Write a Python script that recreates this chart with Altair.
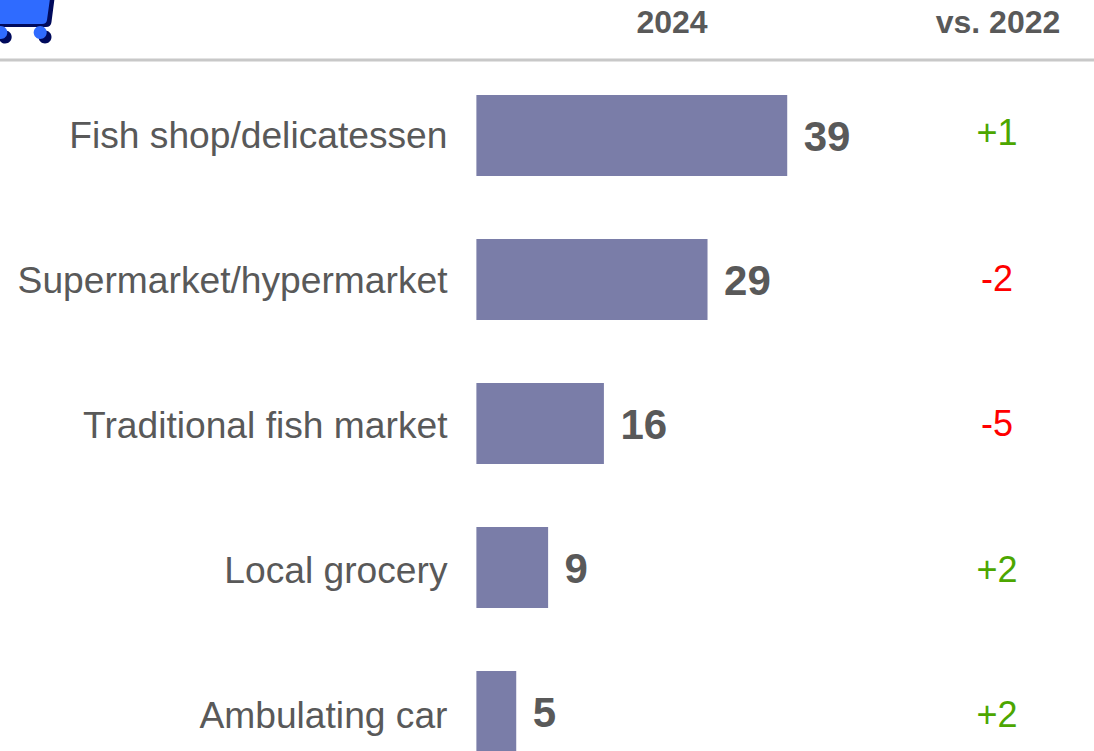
import altair as alt
import pandas as pd

# Channel shares for 2024 and the change against 2022
channels = ["Fish shop/delicatessen", "Supermarket/hypermarket", "Traditional fish market", "Local grocery", "Ambulating car"]
share_2024 = [39, 29, 16, 9, 5]
change_vs_2022 = ["+1", "-2", "-5", "+2", "+2"]
headers = ["2024", "vs. 2022"]

FONT = "Liberation Sans"
GREY = "#595959"
BAR = "#7a7da8"
GREEN = "#4ca600"
RED = "#ff0000"

df = pd.DataFrame({
    "channel": channels,
    "share": share_2024,
    "change": change_vs_2022,
    "tone": [GREEN if c.startswith("+") else RED for c in change_vs_2022],
})

x_scale = alt.Scale(domain=[-59.77, 77.49], range=[0, 1094], nice=False, zero=False)
x_enc = alt.X("share:Q", scale=x_scale, axis=None)


def rows(top, step):
    """Band scale for the five rows, with the first band starting at `top`."""
    return alt.Y(
        "channel:N",
        axis=None,
        sort=channels,
        scale=alt.Scale(domain=channels, range=[top, top + 5 * step], paddingInner=0.4375, paddingOuter=0.21875),
    )


bars = alt.Chart(df).mark_bar(color=BAR, clip=False).encode(
    x=x_enc,
    x2=alt.value(476.4),
    y=rows(63.5, 144),
)

values = alt.Chart(df).mark_text(
    align="left", baseline="middle", dx=16.5, dy=2, font=FONT, fontSize=42, fontWeight="bold", color=GREY
).encode(x=x_enc, y=rows(63.5, 144), text="share:Q")

names = alt.Chart(df).mark_text(
    align="right", baseline="middle", font=FONT, fontSize=37.2, color=GREY
).encode(x=alt.value(447.5), y=rows(64.5, 145), text="channel:N")

changes = alt.Chart(df).mark_text(
    align="center", baseline="middle", font=FONT, fontSize=36
).encode(
    x=alt.value(997), y=rows(61.5, 145.5), text="change:N",
    color=alt.Color("tone:N", scale=None),
)

header_df = pd.DataFrame({"label": headers, "px": [672, 998]})
header = alt.Chart(header_df).mark_text(
    align="center", baseline="middle", font=FONT, fontSize=32, fontWeight="bold", color=GREY
).encode(
    x=alt.X("px:Q", scale=None, axis=None),
    y=alt.value(22.5),
    text="label:N",
)

divider = alt.Chart(pd.DataFrame({"a": [0]})).mark_rule(color="#c8c8c8", strokeWidth=3).encode(
    x=alt.value(0), x2=alt.value(1094), y=alt.value(60)
)


# Shopping-cart pictogram in the top left corner
def glyph(path, color, px, py, extent):
    return alt.Chart(pd.DataFrame({"a": [0]})).mark_point(
        shape=path, filled=True, color=color, opacity=1, size=extent * extent, strokeWidth=0
    ).encode(x=alt.value(px), y=alt.value(py))


CART_BACK = "M-1 -0.17 L1 -0.17 L0.883 0.733 Q0.867 0.9 0.7 0.9 L-1 0.9 Z"
CART_FRONT = "M-1 -0.17 L0.85 -0.17 L0.733 0.667 Q0.717 0.8 0.567 0.8 L-1 0.8 Z"
DISC = "M-1 0 A1 1 0 1 1 1 0 A1 1 0 1 1 -1 0 Z"

cart = [
    glyph(CART_BACK, "#000a5c", 25, 0, 60),
    glyph(CART_FRONT, "#2f6bff", 25, 0, 60),
    glyph(DISC, "#000a5c", 5.2, 37, 13),
    glyph(DISC, "#000a5c", 45, 37, 13),
    glyph(DISC, "#2f6bff", 0.8, 32.5, 13),
    glyph(DISC, "#2f6bff", 40.2, 32.5, 13),
]

chart = (
    alt.layer(bars, values, names, changes, header, divider, *cart)
    .resolve_scale(y="independent")
    .properties(
        width=1094,
        height=751,
        padding=0,
        background="white",
        autosize=alt.AutoSizeParams(type="none"),
    )
    .configure_view(strokeWidth=0, stroke="transparent")
)

chart.save("out.html", embed_options={"renderer": "svg", "actions": False})
